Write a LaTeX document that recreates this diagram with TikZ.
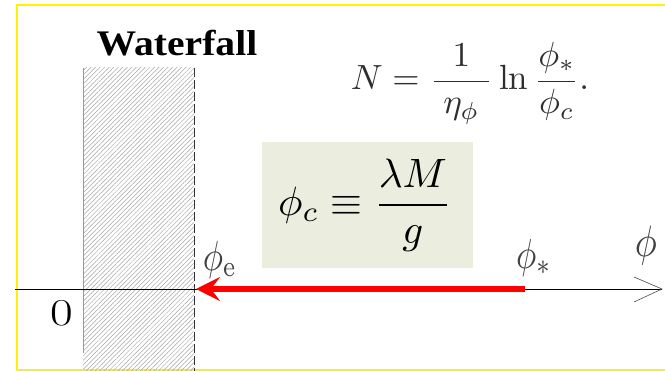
\documentclass[tikz,border=0pt]{standalone}
\usepackage{fontspec}
\usetikzlibrary{patterns,patterns.meta,arrows.meta}
\newfontfamily\wfont{Liberation Serif}
\tikzset{
  lbl/.style={inner sep=0pt, text=black!75},
  hatch/.style={pattern={Lines[angle=45,distance=3.2pt,line width=0.5pt]}, pattern color=gray!70},
}
\begin{document}
\begin{tikzpicture}[x=1pt,y=-1pt]
\useasboundingbox (0,0) rectangle (665,371);
% yellow frame
\draw[yellow, line width=2.2pt] (667,5) -- (17,5) -- (17,370) -- (667,370);
% hatched waterfall region
\fill[hatch] (83,68) rectangle (194,371);
\draw[gray!80, line width=0.8pt] (83,68) -- (83,353);
\draw[black!80, line width=0.8pt, dash pattern=on 9pt off 3pt] (194,68) -- (194,371);
% axis
\coordinate (ax0) at (15,289);
\coordinate (ax1) at (662,289);
\draw[black, line width=0.8pt] (ax0) -- (ax1);
\draw[black!70, line width=0.6pt] (634,277) -- (ax1) -- (634,302);
% red arrow
\coordinate (rs) at (525,289);
\coordinate (re) at (196,289);
\draw[red, line width=6pt, -{Stealth[length=24pt,width=24pt,inset=9pt]}] (rs) -- (re);
% labels
\node[inner sep=0pt] (wf) at (177,43) {\scalebox{1.1}[1]{\wfont\bfseries\fontsize{36}{40}\selectfont Waterfall}};
\node[inner sep=0pt] (zero) at (62,313) {\scalebox{1.3}[1]{\fontsize{38}{42}\selectfont 0}};
\node[lbl] (pe) at (220,260) {\scalebox{3.4}[4.2]{$\phi_{\mathrm{e}}$}};
\node[lbl] (ps) at (534,258) {\scalebox{3.4}[4.2]{$\phi_{*}$}};
\node[lbl] (ph) at (646,246) {\scalebox{3.7}[4.4]{$\phi$}};
% N equation
\node[inner sep=0pt, text=black!82, scale=3.5] (Neq) at (470,83) {$\displaystyle N=\frac{\;1\;}{\;\eta_\phi\;}\ln\frac{\phi_*}{\phi_c}.$};
% phi_c box
\node[fill={rgb,255:red,235;green,238;blue,223}, minimum width=211pt, minimum height=126pt, inner sep=0pt] (box) at (367.5,205) {};
\node[inner sep=0pt, scale=4.1] (pc) at (365,205) {$\displaystyle\phi_c\equiv\frac{\lambda M}{g}$};
\end{tikzpicture}
\end{document}
